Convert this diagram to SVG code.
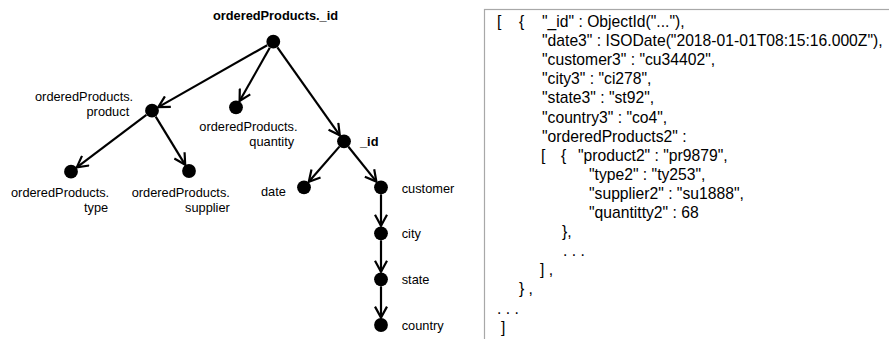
<svg xmlns="http://www.w3.org/2000/svg" width="889" height="339" viewBox="0 0 889 339">
  <style>
    .lbl { font-family: "Liberation Sans", Arial, sans-serif; font-size: 12.8px; fill: #000; }
    .bold { font-weight: bold; }
    .dot { fill: #000; }
    .edge { stroke: #000; stroke-width: 2.2; fill: none; marker-end: url(#arr); }
    .json { font-family: "Liberation Sans", Arial, sans-serif; font-size: 15.7px; fill: #000; }
    .box { fill: #fff; stroke: #a8a8a8; stroke-width: 1.2; }
  </style>
  <defs>
    <marker id="arr" markerUnits="userSpaceOnUse" markerWidth="14" markerHeight="14" viewBox="0 0 14 14" refX="12.5" refY="7" orient="auto">
      <path d="M1.5,1 L12.5,7 L1.5,13" fill="none" stroke="#000" stroke-width="2.2" stroke-linejoin="miter"/>
    </marker>
  </defs>
  <rect width="889" height="339" fill="#fff"/>

  <g id="connectors">
    <line class="edge" x1="267.2" y1="45.2" x2="158.3" y2="107.1"/>
    <line class="edge" x1="269.8" y1="47.8" x2="239.6" y2="101.0"/>
    <line class="edge" x1="277.4" y1="47.4" x2="339.8" y2="135.3"/>
    <line class="edge" x1="146.4" y1="114.9" x2="76.8" y2="167.3"/>
    <line class="edge" x1="155.7" y1="116.7" x2="185.2" y2="164.8"/>
    <line class="edge" x1="339.4" y1="146.6" x2="308.8" y2="181.8"/>
    <line class="edge" x1="348.4" y1="146.8" x2="376.4" y2="181.6"/>
    <line class="edge" x1="381" y1="194.3" x2="381" y2="225.8"/>
    <line class="edge" x1="381" y1="240.3" x2="381" y2="271.8"/>
    <line class="edge" x1="381" y1="286.3" x2="381" y2="317.6"/>
  </g>

  <g id="node-root">
    <circle class="dot" cx="273.3" cy="41.7" r="6.9"/>
    <text class="lbl bold" x="275.5" y="20" text-anchor="middle">orderedProducts._id</text>
  </g>
  <g id="node-product">
    <circle class="dot" cx="152" cy="110.7" r="6.9"/>
    <text class="lbl" x="35" y="101">orderedProducts.</text>
    <text class="lbl" x="86.5" y="116">product</text>
  </g>
  <g id="node-quantity">
    <circle class="dot" cx="236" cy="107.3" r="6.9"/>
    <text class="lbl" x="199.3" y="131">orderedProducts.</text>
    <text class="lbl" x="249.3" y="146">quantity</text>
  </g>
  <g id="node-id">
    <circle class="dot" cx="344" cy="141.3" r="6.9"/>
    <text class="lbl bold" x="360" y="145.5">_id</text>
  </g>
  <g id="node-type">
    <circle class="dot" cx="71" cy="171.7" r="6.9"/>
    <text class="lbl" x="11" y="196.7">orderedProducts.</text>
    <text class="lbl" x="84" y="211.7">type</text>
  </g>
  <g id="node-supplier">
    <circle class="dot" cx="189" cy="171" r="6.9"/>
    <text class="lbl" x="131.7" y="196.7">orderedProducts.</text>
    <text class="lbl" x="185" y="211.5">supplier</text>
  </g>
  <g id="node-date">
    <circle class="dot" cx="304" cy="187.3" r="6.9"/>
    <text class="lbl" x="261" y="196">date</text>
  </g>
  <g id="node-customer">
    <circle class="dot" cx="381" cy="187.3" r="6.9"/>
    <text class="lbl" x="401.7" y="193">customer</text>
  </g>
  <g id="node-city">
    <circle class="dot" cx="381" cy="233.3" r="6.9"/>
    <text class="lbl" x="401.7" y="238">city</text>
  </g>
  <g id="node-state">
    <circle class="dot" cx="381" cy="279.3" r="6.9"/>
    <text class="lbl" x="401.7" y="283.5">state</text>
  </g>
  <g id="node-country">
    <circle class="dot" cx="381" cy="325" r="6.9"/>
    <text class="lbl" x="401.7" y="329.5">country</text>
  </g>

  <g id="json-panel">
    <rect class="box" x="484.5" y="9.5" width="420" height="350"/>
    <text class="json" y="27"><tspan x="497">[</tspan><tspan x="519">{</tspan><tspan x="542">"_id" : ObjectId("..."),</tspan></text>
    <text class="json" x="542" y="46.1">"date3" : ISODate("2018-01-01T08:15:16.000Z"),</text>
    <text class="json" x="542" y="65.2">"customer3" : "cu34402",</text>
    <text class="json" x="542" y="84.3">"city3" : "ci278",</text>
    <text class="json" x="542" y="103.4">"state3" : "st92",</text>
    <text class="json" x="542" y="122.5">"country3" : "co4",</text>
    <text class="json" x="542" y="141.6">"orderedProducts2" :</text>
    <text class="json" y="160.7"><tspan x="541">[</tspan><tspan x="561">{</tspan><tspan x="578">"product2" : "pr9879",</tspan></text>
    <text class="json" x="589" y="179.8">"type2" : "ty253",</text>
    <text class="json" x="589" y="198.9">"supplier2" : "su1888",</text>
    <text class="json" x="589" y="218">"quantitty2" : 68</text>
    <text class="json" x="562" y="237.1">},</text>
    <text class="json" x="563" y="256.2">. . .</text>
    <text class="json" x="540" y="275.3">] ,</text>
    <text class="json" x="519" y="294.4">} ,</text>
    <text class="json" x="497" y="313.5">. . .</text>
    <text class="json" x="501" y="332.6">]</text>
  </g>
</svg>
